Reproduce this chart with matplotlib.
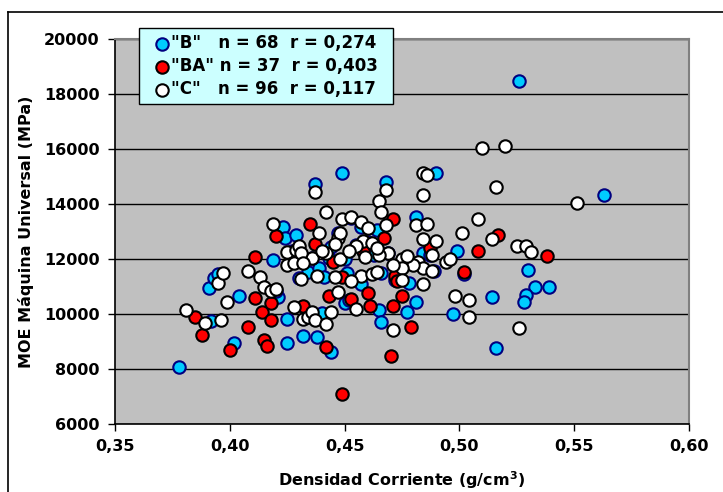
import matplotlib.pyplot as plt
from matplotlib.lines import Line2D
from matplotlib.ticker import FuncFormatter, MultipleLocator

# Serie "B"
b_x = [0.378, 0.391, 0.393, 0.395, 0.392, 0.402, 0.404, 0.419, 0.421, 0.423,
       0.424, 0.429, 0.425, 0.425, 0.432, 0.438, 0.434, 0.439, 0.440, 0.437,
       0.449, 0.468, 0.490, 0.526, 0.563, 0.530, 0.533, 0.539, 0.529, 0.528,
       0.514, 0.497, 0.516, 0.499, 0.481, 0.484, 0.481, 0.502, 0.464, 0.457,
       0.444, 0.443, 0.451, 0.457, 0.450, 0.452, 0.465, 0.466, 0.477, 0.478,
       0.444, 0.447, 0.453, 0.460, 0.469, 0.475, 0.441, 0.430, 0.427, 0.436,
       0.455, 0.466, 0.487, 0.489, 0.472, 0.420, 0.463, 0.450]
b_y = [8070, 10930, 11300, 11440, 9740, 8940, 10640, 11950, 10610, 13150,
       12780, 12860, 9810, 8940, 9190, 9160, 11510, 11660, 10030, 14710,
       15140, 14810, 15140, 18480, 14340, 11590, 10970, 10970, 10680, 10430,
       10610, 10000, 8760, 12280, 13510, 12200, 10430, 11440, 13070, 13180,
       12420, 12050, 11480, 11080, 10390, 10500, 10140, 9700, 10060, 11110,
       8610, 12930, 13500, 12600, 12200, 11700, 11350, 11300, 12300, 12030,
       12500, 11500, 12150, 11570, 11250, 10850, 12150, 12000]

# Serie "BA"
ba_x = [0.385, 0.388, 0.400, 0.411, 0.411, 0.408, 0.414, 0.418, 0.418, 0.415,
        0.416, 0.420, 0.435, 0.437, 0.442, 0.443, 0.449, 0.460, 0.453, 0.461,
        0.471, 0.475, 0.479, 0.470, 0.449, 0.471, 0.467, 0.472, 0.473, 0.487,
        0.508, 0.502, 0.517, 0.538, 0.445, 0.458, 0.432]
ba_y = [9880, 9230, 8700, 12090, 10570, 9520, 10060, 9800, 10390, 9050,
        8830, 12820, 13290, 12530, 8790, 10640, 11330, 10750, 10530, 10280,
        10280, 10640, 9520, 8470, 7090, 13470, 12750, 11400, 11200, 12400,
        12280, 11510, 12860, 12100, 11900, 12300, 10300]

# Serie "C"
c_x = [0.381, 0.389, 0.396, 0.395, 0.397, 0.399, 0.408, 0.413, 0.415, 0.418,
       0.420, 0.419, 0.425, 0.425, 0.428, 0.429, 0.430, 0.431, 0.436, 0.438,
       0.428, 0.432, 0.434, 0.436, 0.437, 0.442, 0.437, 0.442, 0.439, 0.442,
       0.431, 0.449, 0.453, 0.457, 0.460, 0.447, 0.448, 0.458, 0.455, 0.462,
       0.469, 0.468, 0.465, 0.466, 0.468, 0.484, 0.486, 0.484, 0.510, 0.520,
       0.516, 0.551, 0.481, 0.486, 0.484, 0.490, 0.501, 0.508, 0.514, 0.525,
       0.529, 0.531, 0.488, 0.494, 0.496, 0.482, 0.484, 0.488, 0.484, 0.498,
       0.504, 0.504, 0.526, 0.471, 0.448, 0.446, 0.457, 0.459, 0.465, 0.462,
       0.464, 0.475, 0.480, 0.475, 0.475, 0.447, 0.455, 0.444, 0.432, 0.452,
       0.464, 0.477, 0.440, 0.453, 0.471, 0.446]
c_y = [10130, 9660, 9770, 11110, 11480, 10430, 11550, 11330, 11000, 10820,
       10900, 13290, 12240, 11770, 11840, 12310, 12460, 11260, 12020, 11370,
       10240, 9810, 9880, 10060, 9770, 9630, 14420, 13690, 12930, 12200,
       12200, 13440, 13510, 13330, 13110, 12780, 12930, 12640, 12490, 12570,
       12200, 14490, 14090, 13690, 13250, 15140, 15070, 14340, 16050, 16120,
       14600, 14050, 13220, 13290, 12710, 12640, 12960, 13440, 12710, 12460,
       12490, 12240, 12130, 11880, 11990, 11880, 11660, 11550, 11080, 10640,
       10500, 9880, 9480, 9410, 11990, 11330, 11370, 12060, 12130, 11440,
       11510, 12000, 11770, 11660, 11220, 10790, 10170, 10060, 11840, 12300,
       12400, 12100, 12300, 11200, 11800, 12550]

etiquetas = ['"B"   n = 68  r = 0,274',
             '"BA" n = 37  r = 0,403',
             '"C"   n = 96  r = 0,117']

fig = plt.figure(figsize=(7.23, 4.92), dpi=100)
ax = fig.add_axes([0.159, 0.138, 0.794, 0.783])
ax.set_facecolor('#C0C0C0')

s1 = ax.scatter(b_x, b_y, s=80, c='#00CCFF', edgecolors='#000080', linewidths=1.5, zorder=3)
s2 = ax.scatter(ba_x, ba_y, s=80, c='#FF0000', edgecolors='black', linewidths=1.5, zorder=4)
s3 = ax.scatter(c_x, c_y, s=80, c='white', edgecolors='black', linewidths=1.5, zorder=5)

ax.set_xlim(0.35, 0.60)
ax.set_ylim(6000, 20000)
ax.xaxis.set_major_locator(MultipleLocator(0.05))
ax.yaxis.set_major_locator(MultipleLocator(2000))
ax.xaxis.set_major_formatter(FuncFormatter(lambda v, p: f'{v:.2f}'.replace('.', ',')))
ax.yaxis.grid(True, color='black', lw=1)
ax.set_axisbelow(True)
ax.tick_params(direction='out', length=5, width=1, labelsize=11.5, pad=6)
for t in ax.get_xticklabels() + ax.get_yticklabels():
    t.set_fontweight('bold')

for k in ['top', 'right']:
    ax.spines[k].set_color('#808080')
    ax.spines[k].set_linewidth(1.5)
for k in ['left', 'bottom']:
    ax.spines[k].set_linewidth(1.2)

ax.set_xlabel(r'Densidad Corriente (g/cm$^{\mathbf{3}}$)', fontsize=11.5, fontweight='bold', labelpad=11)
ax.set_ylabel('MOE Máquina Universal (MPa)', fontsize=11.5, fontweight='bold', labelpad=7)

leg = ax.legend([s1, s2, s3], etiquetas, loc='upper left',
                bbox_to_anchor=(0.042, 1.029, 0.4425, 0), mode='expand',
                fancybox=False, edgecolor='black', facecolor='#CCFFFF', framealpha=1,
                prop={'weight': 'bold', 'size': 12}, handletextpad=-0.45, handlelength=2.0,
                borderpad=0.38, labelspacing=0.3, scatterpoints=1, borderaxespad=0)
leg.get_frame().set_linewidth(1.0)
leg.set_zorder(10)

# marco exterior del grafico
fig.add_artist(Line2D([8 / 723, 8 / 723], [0, 1 - 11.5 / 492], color='black', lw=1.2))
fig.add_artist(Line2D([8 / 723, 1], [1 - 11.5 / 492, 1 - 11.5 / 492], color='black', lw=1.2))

fig.savefig('out.png', dpi=100)
